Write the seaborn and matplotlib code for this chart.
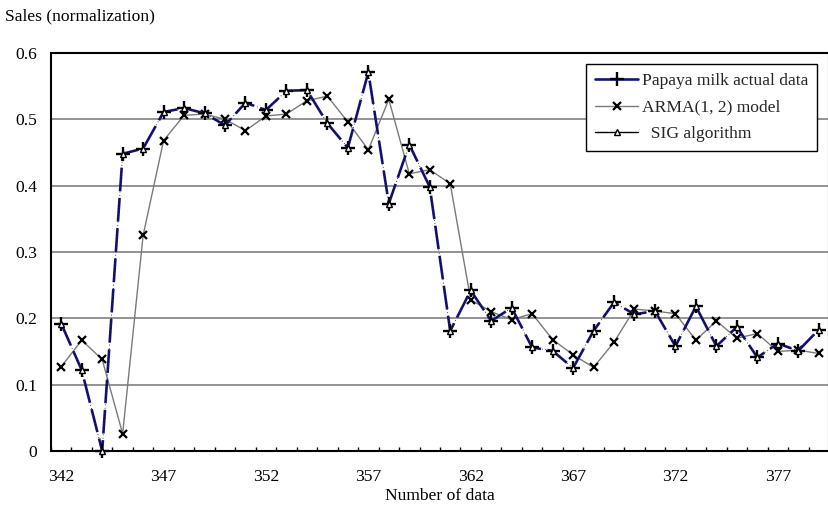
import matplotlib
matplotlib.use("Agg")
import matplotlib.pyplot as plt
import seaborn as sns
import pandas as pd

# Data index (x axis)
data_index = list(range(342, 380))

# Normalized sales, papaya milk
actual_sales = [0.192, 0.122, 0.000, 0.448, 0.456, 0.511, 0.517, 0.509, 0.491, 0.525,
                0.514, 0.543, 0.544, 0.494, 0.457, 0.571, 0.373, 0.462, 0.398, 0.181,
                0.242, 0.196, 0.216, 0.156, 0.151, 0.125, 0.181, 0.224, 0.206, 0.211,
                0.158, 0.218, 0.158, 0.187, 0.141, 0.162, 0.151, 0.183]

# ARMA(1, 2) model output
arma_sales = [0.127, 0.167, 0.138, 0.026, 0.325, 0.468, 0.506, 0.508, 0.500, 0.483,
              0.505, 0.508, 0.528, 0.535, 0.496, 0.454, 0.530, 0.418, 0.424, 0.403,
              0.228, 0.210, 0.198, 0.207, 0.168, 0.145, 0.126, 0.164, 0.214, 0.211,
              0.207, 0.167, 0.196, 0.170, 0.177, 0.150, 0.152, 0.147]

# SIG algorithm output
sig_sales = [0.192, 0.122, 0.000, 0.448, 0.456, 0.511, 0.517, 0.509, 0.491, 0.525,
             0.514, 0.543, 0.544, 0.494, 0.457, 0.571, 0.373, 0.462, 0.398, 0.181,
             0.242, 0.196, 0.216, 0.156, 0.151, 0.125, 0.181, 0.224, 0.206, 0.211,
             0.158, 0.218, 0.158, 0.187, 0.141, 0.162, 0.151, 0.183]

x_tick_labels = ["342", "347", "352", "357", "362", "367", "372", "377"]
y_ticks = [0, 0.1, 0.2, 0.3, 0.4, 0.5, 0.6]
y_tick_labels = ["0", "0.1", "0.2", "0.3", "0.4", "0.5", "0.6"]

df = pd.DataFrame({"n": data_index, "actual": actual_sales,
                   "arma": arma_sales, "sig": sig_sales})

FS = 12.6

sns.set_theme(style="white")
plt.rcParams["font.family"] = ["Liberation Serif", "DejaVu Serif"]
plt.rcParams["font.size"] = FS

fig = plt.figure(figsize=(8.29, 5.07), dpi=100)
ax = fig.add_axes([0.0615, 0.1105, 0.9385, 0.785])

sns.lineplot(data=df, x="n", y="actual", ax=ax, color="#14147a", lw=1.9,
             marker="+", markersize=9.5, markeredgewidth=1.7,
             markeredgecolor="black", label="Papaya milk actual data",
             zorder=4, clip_on=False)
ax.lines[-1].set_dashes([9, 2.5])
sns.lineplot(data=df, x="n", y="arma", ax=ax, color="#7a7a7a", lw=1.0,
             marker="x", markersize=6, markeredgewidth=1.6,
             markeredgecolor="black", label="ARMA(1, 2) model", zorder=3,
             clip_on=False)
sns.lineplot(data=df, x="n", y="sig", ax=ax, color="black", lw=0.6,
             linestyle=(0, (1, 3)),
             marker="^", markersize=4, markeredgewidth=1.0,
             markerfacecolor="white", markeredgecolor="black",
             label="  SIG algorithm", zorder=5, clip_on=False)

ax.set_xlim(341.5, 379.5)
ax.set_ylim(0, 0.6)
ax.set_yticks(y_ticks)
ax.set_yticklabels(y_tick_labels)
ax.set_xticks([int(t) for t in x_tick_labels])
ax.set_xticklabels(x_tick_labels)
ax.set_xticks([v + 0.5 for v in data_index[:-1]] + [341.5], minor=True)
ax.tick_params(axis="x", which="major", length=0, pad=13, labelsize=FS,
               colors="black")
ax.tick_params(axis="x", which="minor", direction="in", length=3,
               width=1, color="black", bottom=True)
ax.tick_params(axis="y", length=0, pad=10, labelsize=FS, colors="black")

ax.grid(axis="y", color="#808080", lw=1.2)
ax.set_axisbelow(True)
for side in ["left", "bottom", "top", "right"]:
    ax.spines[side].set_visible(True)
    ax.spines[side].set_color("black")
    ax.spines[side].set_linewidth(1.5)

ax.set_xlabel("Number of data", fontsize=FS, labelpad=2, color="black")
ax.set_ylabel("")
fig.text(0.006, 0.968, "Sales (normalization)", fontsize=FS,
         ha="left", va="center", color="black")

leg = ax.legend(loc="upper right", bbox_to_anchor=(0.9846, 0.9724),
                borderaxespad=0, frameon=True, fancybox=False,
                edgecolor="black", handlelength=2.5, labelspacing=0.6,
                borderpad=0.5, handletextpad=0.2, fontsize=FS)
leg.get_frame().set_linewidth(1.0)
leg.get_frame().set_facecolor("white")
leg.get_frame().set_alpha(1)
# Legend keys use plain solid strokes
for handle in leg.get_lines():
    handle.set_linestyle("-")
leg.get_lines()[2].set_linewidth(1.0)

fig.savefig("out.png", dpi=100)
